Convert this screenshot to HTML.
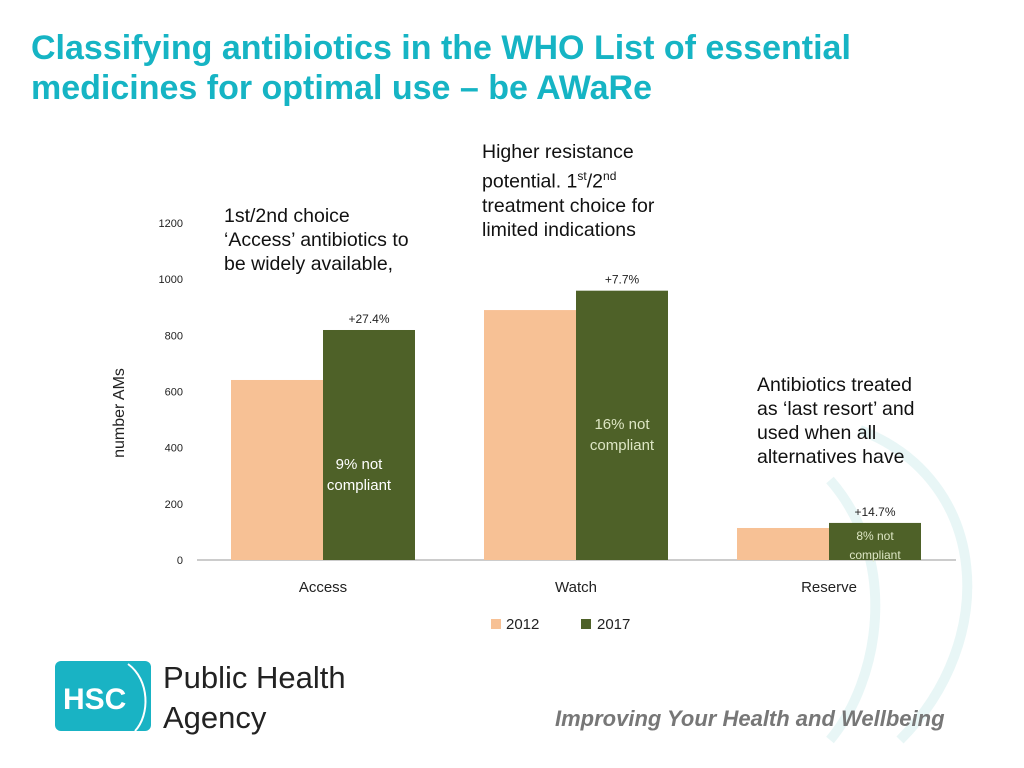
<!DOCTYPE html>
<html><head><meta charset="utf-8"><style>
body{margin:0;width:1024px;height:768px;background:#fff;font-family:"Liberation Sans",sans-serif;overflow:hidden;position:relative}
.t{position:absolute;margin:0}
</style></head><body>
<h1 class="t" style="left:31px;top:28px;font-size:34px;line-height:40px;color:#16b4c4;font-weight:bold">Classifying antibiotics in the WHO List of essential<br>medicines for optimal use – be AWaRe</h1>
<svg width="1024" height="768" style="position:absolute;left:0;top:0">
<g opacity="0.25" fill="none" stroke="#a8dcdc" stroke-width="10">
<path d="M860 430 C990 480 1000 640 900 740"/><path d="M830 480 C900 560 880 680 830 740"/>
</g>
<g id="axes"></g><g id="bars"></g><g id="labels"></g>
<text x="124" y="413" transform="rotate(-90 124 413)" text-anchor="middle" font-size="16" font-family="Liberation Sans, DejaVu Sans, sans-serif" fill="#222">number AMs</text>
<g font-size="15" fill="#222">
<rect x="491" y="619" width="10" height="10" fill="#f7c195"/>
<text x="506" y="629">2012</text>
<rect x="581" y="619" width="10" height="10" fill="#4e6128"/>
<text x="597" y="629">2017</text>
</g>
<g>
<rect x="55" y="661" width="96" height="70" rx="6" fill="#19b3c4"/>
<text x="63" y="709" font-size="30" font-weight="bold" fill="#fff">HSC</text>
<path d="M128 664 C150 680 150 715 135 731" stroke="#fff" stroke-width="2" fill="none"/>
<text x="163" y="688" font-size="31" fill="#222">Public Health</text>
<text x="163" y="728" font-size="31" fill="#222">Agency</text>
</g>
<text x="555" y="726" font-size="22" font-style="italic" font-weight="bold" fill="#777">Improving Your Health and Wellbeing</text>
</svg>
<div class="t" style="left:224px;top:204px;font-size:19.5px;line-height:24px;color:#111">1st/2nd choice<br>‘Access’ antibiotics to<br>be widely available,</div>
<div class="t" style="left:482px;top:140px;font-size:19.5px;line-height:24px;color:#111">Higher resistance<br>potential. 1<sup style="font-size:12px">st</sup>/2<sup style="font-size:12px">nd</sup><br>treatment choice for<br>limited indications</div>
<div class="t" style="left:757px;top:373px;font-size:19.5px;line-height:24px;color:#111">Antibiotics treated<br>as ‘last resort’ and<br>used when all<br>alternatives have</div>
<script>
const categories=["Access","Watch","Reserve"];
const values2012=[641,890,114];
const values2017=[819,959,132];
const changeLabels=["+27.4%","+7.7%","+14.7%"];
const complianceLabels=[["9% not","compliant"],["16% not","compliant"],["8% not","compliant"]];
const yTicks=[0,200,400,600,800,1000,1200];
const NS="http://www.w3.org/2000/svg";
const y0=560,yScale=337/1200;
const Y=v=>y0-v*yScale;
const X=i=>231+i*253;
const bw=92;
function mk(tag,attrs,parent,txt){const e=document.createElementNS(NS,tag);for(const k in attrs)e.setAttribute(k,attrs[k]);if(txt!==undefined)e.textContent=txt;document.getElementById(parent).appendChild(e);return e;}
const ax=mk("line",{x1:197,x2:956,y1:y0,y2:y0,stroke:"#999","stroke-width":1},"axes");


yTicks.forEach(v=>{const t=mk("text",{x:183,y:Y(v)+4,"text-anchor":"end","font-size":11,fill:"#222"},"axes",v);

});
categories.forEach((c,i)=>{
const b1=mk("rect",{x:X(i),y:Y(values2012[i]),width:bw,height:values2012[i]*yScale,fill:"#f7c195"},"bars");


const b2=mk("rect",{x:X(i)+bw,y:Y(values2017[i]),width:bw,height:values2017[i]*yScale,fill:"#4e6128"},"bars");


const cl=mk("text",{x:X(i)+bw,y:592,"text-anchor":"middle","font-size":15,fill:"#222"},"labels",c);


const ch=mk("text",{x:X(i)+bw*1.5,y:Y(values2017[i])-7,"text-anchor":"middle","font-size":12,fill:"#222"},"labels",changeLabels[i]);


const small=i===2;
const ly=small?[540,559]:(i===0?[469,490]:[429,450]);
complianceLabels[i].forEach((s,j)=>{const t=mk("text",{x:X(i)+bw*1.5-(i===0?10:0),y:ly[j],"text-anchor":"middle","font-size":small?12:15,fill:i===0?"#fff":"#dde6c4"},"labels",s);

});
});
</script>
</body></html>
